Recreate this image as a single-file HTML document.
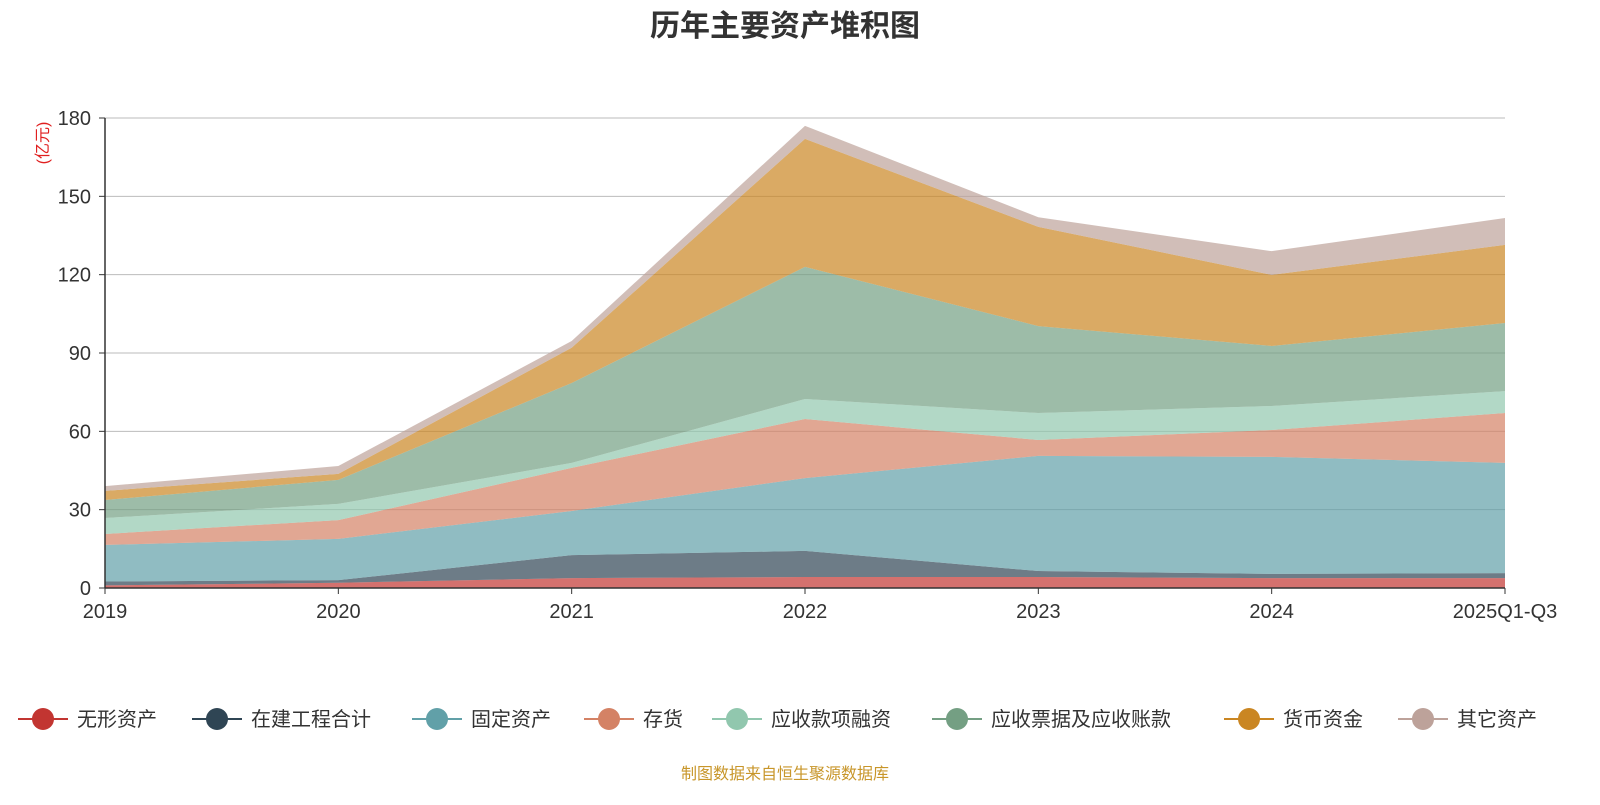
<!DOCTYPE html>
<html><head><meta charset="utf-8"><style>
html,body{margin:0;padding:0;background:#fff;}
body{width:1600px;height:800px;overflow:hidden;font-family:"Liberation Sans","Noto Sans CJK SC",sans-serif;}
</style></head><body>
<svg id="chart" width="1600" height="800" xmlns="http://www.w3.org/2000/svg" font-family="Liberation Sans, Noto Sans CJK SC, sans-serif">
<text x="785" y="36" text-anchor="middle" font-size="30" font-weight="bold" fill="#333">历年主要资产堆积图</text>
<text transform="translate(48,143) rotate(-90)" text-anchor="middle" font-size="16" fill="#e02020">(亿元)</text>
<g id="grid"></g><g id="areas"></g><g id="axes"></g><g id="legend"></g>
<text x="785" y="779" text-anchor="middle" font-size="16" fill="#c8962a">制图数据来自恒生聚源数据库</text>
</svg>
<script>
const categories=["2019","2020","2021","2022","2023","2024","2025Q1-Q3"];
const seriesNames=["无形资产","在建工程合计","固定资产","存货","应收款项融资","应收票据及应收账款","货币资金","其它资产"];
const intangible=[1.0,2.0,3.8,4.2,4.2,3.8,3.8];
const construction=[1.5,1.0,8.8,10.0,2.3,1.6,1.9];
const fixedAssets=[14.0,15.8,16.9,27.9,44.1,44.8,42.2];
const inventory=[4.2,7.2,16.5,22.6,6.1,10.3,19.1];
const receivableFinancing=[6.1,6.2,1.9,7.7,10.3,9.2,8.4];
const receivables=[6.9,9.2,30.6,50.6,33.3,23.0,26.1];
const cash=[3.5,2.3,13.5,49.0,38.0,27.2,29.9];
const otherAssets=[1.8,3.0,2.6,5.0,3.7,9.1,10.3];
const yTicks=[0,30,60,90,120,150,180];
const colors=["#c23531","#2f4554","#61a0a8","#d48265","#91c7ae","#749f83","#ca8622","#bda29a"];
const series=[intangible,construction,fixedAssets,inventory,receivableFinancing,receivables,cash,otherAssets];
const NS="http://www.w3.org/2000/svg";
const x0=105,x1=1505,y0=588,y1=118,yMax=180;
const xs=i=>x0+(x1-x0)*i/(categories.length-1);
const ys=v=>y0-(y0-y1)*v/yMax;
function mk(t,a,p){const e=document.createElementNS(NS,t);for(const k in a)e.setAttribute(k,a[k]);p.appendChild(e);return e;}
const grid=document.getElementById('grid'),axes=document.getElementById('axes'),areas=document.getElementById('areas'),legend=document.getElementById('legend');
yTicks.forEach(t=>{
  if(t>0){const l=mk('line',{x1:x0,x2:x1,y1:ys(t),y2:ys(t),stroke:'#bbb','stroke-width':1},grid);
  
  }
  const tx=mk('text',{x:x0-14,y:ys(t)+7,'text-anchor':'end','font-size':20,fill:'#333'},axes);tx.textContent=t;
  
  
  mk('line',{x1:x0-6,x2:x0,y1:ys(t),y2:ys(t),stroke:'#333'},axes);
});
let base=categories.map(()=>0);
series.forEach((s,si)=>{
  const top=base.map((b,i)=>b+s[i]);
  let d='M'+top.map((v,i)=>xs(i)+','+ys(v)).join(' L');
  for(let i=categories.length-1;i>=0;i--)d+=' L'+xs(i)+','+ys(base[i]);
  d+='Z';
  const p=mk('path',{d:d,fill:colors[si],'fill-opacity':0.7,stroke:'none'},areas);
  
  
  base=top;
});
mk('line',{x1:x0,x2:x0,y1:y1,y2:y0,stroke:'#333','stroke-width':1.5},axes);
mk('line',{x1:x0,x2:x1,y1:y0,y2:y0,stroke:'#333','stroke-width':1.5},axes);
categories.forEach((c,i)=>{
  mk('line',{x1:xs(i),x2:xs(i),y1:y0,y2:y0+6,stroke:'#333'},axes);
  const tx=mk('text',{x:xs(i),y:y0+30,'text-anchor':'middle','font-size':20,fill:'#333'},axes);tx.textContent=c;
  
  
});
const lx=[18,192,412,584,712,932,1224,1398];
seriesNames.forEach((n,i)=>{
  const g=mk('g',{},legend);
  
  
  mk('line',{x1:lx[i],x2:lx[i]+50,y1:719,y2:719,stroke:colors[i],'stroke-width':2},g);
  mk('circle',{cx:lx[i]+25,cy:719,r:11,fill:colors[i]},g);
  const t=mk('text',{x:lx[i]+59,y:726,'font-size':20,fill:'#333'},g);t.textContent=n;
});
</script>
</body></html>
